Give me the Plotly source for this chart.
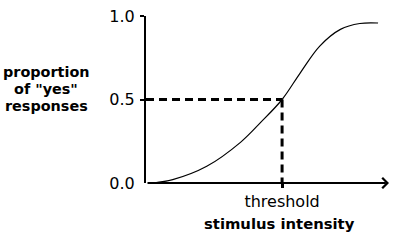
import plotly.graph_objects as go

# Data (schematic psychometric function)
stimulus = [0.3, 1.1, 2.5, 3.9, 4.7, 5.6, 6.35, 7.15, 8.0, 8.8, 9.55]
proportion = [0.0, 0.02, 0.10, 0.245, 0.36, 0.5, 0.66, 0.82, 0.92, 0.955, 0.958]
threshold = 5.6
threshold_level = 0.5
y_ticks = [0.0, 0.5, 1.0]
y_tick_labels = ["0.0", "0.5", "1.0"]
x_ticks = [threshold]
x_tick_labels = ["threshold"]
y_label_lines = ["proportion", "of \"yes\"", "responses"]
x_label = "stimulus intensity"
x_max = 10

W, H = 395, 242
ml, mr, mt, mb = 146, 6, 16, 58.5
pw, ph = W - ml - mr, H - mt - mb

FONT = "DejaVu Sans"

fig = go.Figure()

# dashed guide lines
fig.add_trace(go.Scatter(x=[0, threshold], y=[threshold_level, threshold_level], mode="lines",
                         line=dict(color="black", width=3, dash="8px,5px"),
                         hoverinfo="skip", showlegend=False))
fig.add_trace(go.Scatter(x=[threshold, threshold], y=[threshold_level, 0], mode="lines",
                         line=dict(color="black", width=3, dash="8px,5px"),
                         hoverinfo="skip", showlegend=False))
# curve
fig.add_trace(go.Scatter(x=stimulus, y=proportion, mode="lines",
                         line=dict(color="black", width=1.2, shape="spline", smoothing=1),
                         hoverinfo="skip", showlegend=False))

# x axis with arrow
fig.add_annotation(x=x_max, y=0, ax=0, ay=0, xref="x", yref="y", axref="x", ayref="y",
                   text="", showarrow=True, arrowhead=4, arrowsize=1, arrowwidth=2,
                   arrowcolor="black", standoff=0, startstandoff=0)

def py_to_paper(py):
    return (H - mb - py) / ph

def px_to_paper(px):
    return (px - ml) / pw

for line, py in zip(y_label_lines, [72, 89, 106]):
    fig.add_annotation(x=px_to_paper(46), y=py_to_paper(py), xref="paper", yref="paper",
                       text="<b>%s</b>" % line, showarrow=False, xanchor="center", yanchor="middle",
                       font=dict(family=FONT, size=14.4, color="black"))

fig.add_annotation(x=px_to_paper(279), y=py_to_paper(224), xref="paper", yref="paper",
                   text="<b>%s</b>" % x_label, showarrow=False, xanchor="center", yanchor="middle",
                   font=dict(family=FONT, size=14.8, color="black"))

fig.update_layout(
    width=W, height=H,
    margin=dict(l=ml, r=mr, t=mt, b=mb, pad=0),
    paper_bgcolor="white", plot_bgcolor="white",
    showlegend=False,
    xaxis=dict(range=[0, x_max], showgrid=False, zeroline=False, showline=False,
               tickmode="array", tickvals=x_ticks, ticktext=x_tick_labels,
               ticks="outside", ticklen=4, tickwidth=3, tickcolor="black",
               tickfont=dict(family=FONT, size=16, color="black")),
    yaxis=dict(range=[0, 1], showgrid=False, zeroline=False, showline=True,
               linecolor="black", linewidth=2,
               tickmode="array", tickvals=y_ticks, ticktext=y_tick_labels,
               ticks="", ticklabelstandoff=6,
               tickfont=dict(family=FONT, size=16, color="black")),
)
fig.update_yaxes(minor=dict(tickmode="array", tickvals=[0.5, 1.0], ticks="outside",
                            ticklen=4, tickwidth=2, tickcolor="black"))

fig.write_html("out.html")
